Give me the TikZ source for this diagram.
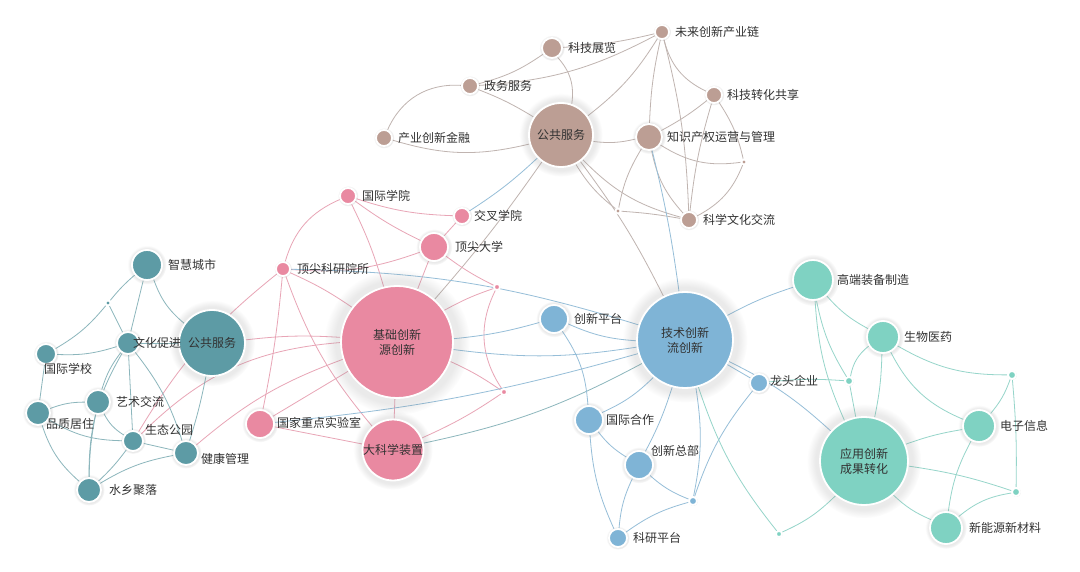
\documentclass[tikz,border=0pt]{standalone}
\usepackage{fontspec}
\setmainfont{Noto Sans CJK SC}
\usetikzlibrary{shadows,backgrounds}
\definecolor{cbrown}{RGB}{188,158,148}
\definecolor{cpink}{RGB}{233,137,161}
\definecolor{cteal}{RGB}{93,155,165}
\definecolor{cblue}{RGB}{127,180,214}
\definecolor{cgreen}{RGB}{127,210,194}
\definecolor{ebrown}{RGB}{192,180,176}
\definecolor{epink}{RGB}{232,165,182}
\definecolor{eteal}{RGB}{140,182,188}
\definecolor{eblue}{RGB}{150,190,216}
\definecolor{egreen}{RGB}{150,213,202}
\definecolor{txt}{RGB}{50,50,50}
\pgfdeclarelayer{base}
\pgfdeclarelayer{edges}
\pgfsetlayers{base,edges,main}
\tikzset{
  nd/.style={circle, draw=white, line width=1.8pt, inner sep=0pt, minimum size=#1,
    text=txt, font=\fontsize{12}{15}\selectfont, align=center,
    circular drop shadow={shadow xshift=0pt, shadow yshift=0pt, shadow scale=1.3, opacity=.16}},
  bn/.style={nd=#1, fill=cbrown},
  pn/.style={nd=#1, fill=cpink},
  cn/.style={nd=#1, fill=cteal},
  tn/.style={nd=#1, fill=cblue},
  gn/.style={nd=#1, fill=cgreen},
  lbl/.style={text=txt, font=\fontsize{12}{14}\selectfont, inner sep=0pt, anchor=west},
  ed/.style={line width=0.8pt},
  be/.style={ed, draw=ebrown},
  pe/.style={ed, draw=epink},
  ce/.style={ed, draw=eteal},
  te/.style={ed, draw=eblue},
  ge/.style={ed, draw=egreen},
}
\begin{document}
\begin{tikzpicture}[x=1pt,y=1pt]
\begin{pgfonlayer}{base}
\path[use as bounding box, fill=white] (0,0) rectangle (1080,-572);
\end{pgfonlayer}
% ---------- brown cluster
\node[bn=64pt] (bC) at (561,-135) {公共服务};
\node[bn=20pt] (bZL) at (552,-48) {};
\node[bn=16pt] (bZW) at (470,-86) {};
\node[bn=16pt] (bJR) at (384,-138) {};
\node[bn=14pt] (bWL) at (662,-32) {};
\node[bn=16pt] (bZH) at (714,-95) {};
\node[bn=26pt] (bZS) at (649,-137) {};
\node[bn=5pt] (bd1) at (744,-162) {};
\node[bn=5pt] (bd2) at (618,-211) {};
\node[bn=16pt] (bKX) at (689,-220) {};
\node[lbl] (lbZL) at ([xshift=5pt]bZL.east) {科技展览};
\node[lbl] (lbZW) at ([xshift=5pt]bZW.east) {政务服务};
\node[lbl] (lbJR) at ([xshift=5pt]bJR.east) {产业创新金融};
\node[lbl] (lbWL) at ([xshift=5pt]bWL.east) {未来创新产业链};
\node[lbl] (lbZH) at ([xshift=4pt]bZH.east) {科技转化共享};
\node[lbl] (lbZS) at ([xshift=4pt]bZS.east) {知识产权运营与管理};
\node[lbl] (lbKX) at ([xshift=5pt]bKX.east) {科学文化交流};
% ---------- pink cluster
\node[pn=112pt] (pC) at (397,-342) {基础创新\\源创新};
\node[pn=16pt] (pGJ) at (348,-196) {};
\node[pn=16pt] (pJC) at (462,-216) {};
\node[pn=28pt] (pDD) at (434,-247) {};
\node[pn=14pt] (pKY) at (283,-269) {};
\node[pn=6pt] (pd1) at (497,-287) {};
\node[pn=6pt] (pd2) at (504,-392) {};
\node[pn=28pt] (pSY) at (260,-424) {};
\node[pn=56pt] (pDK) at (393,-450) {大科学装置};
\node[lbl] (lpGJ) at ([xshift=5pt]pGJ.east) {国际学院};
\node[lbl] (lpJC) at ([xshift=3pt]pJC.east) {交叉学院};
\node[lbl] (lpDD) at ([xshift=6pt]pDD.east) {顶尖大学};
\node[lbl] (lpKY) at ([xshift=6pt]pKY.east) {顶尖科研院所};
\node[lbl] (lpSY) at (277,-423) {国家重点实验室};
% ---------- teal cluster
\node[cn=66pt] (cC) at (212,-343) {公共服务};
\node[cn=30pt] (cZH) at (147,-265) {};
\node[cn=5pt] (cd) at (108,-303) {};
\node[cn=22pt] (cWH) at (128,-343) {};
\node[cn=20pt] (cGX) at (46,-354) {};
\node[cn=24pt] (cYS) at (98,-402) {};
\node[cn=24pt] (cPZ) at (38,-413) {};
\node[cn=20pt] (cST) at (133,-441) {};
\node[cn=24pt] (cJK) at (186,-453) {};
\node[cn=24pt] (cSX) at (89,-490) {};
\node[lbl] (lcZH) at ([xshift=5pt]cZH.east) {智慧城市};
\node[lbl] (lcWH) at (133,-343) {文化促进};
\node[lbl] (lcGX) at (44,-369) {国际学校};
\node[lbl] (lcYS) at ([xshift=5pt]cYS.east) {艺术交流};
\node[lbl] (lcPZ) at (46,-424) {品质居住};
\node[lbl] (lcST) at (145,-430) {生态公园};
\node[lbl] (lcJK) at (201,-459) {健康管理};
\node[lbl] (lcSX) at ([xshift=7pt]cSX.east) {水乡聚落};
% ---------- blue cluster
\node[tn=96pt] (tTC) at (685,-340) {技术创新\\流创新};
\node[tn=28pt] (tPT) at (554,-319) {};
\node[tn=28pt] (tHZ) at (589,-420) {};
\node[tn=28pt] (tZB) at (639,-465) {};
\node[tn=8pt] (td) at (693,-501) {};
\node[tn=18pt] (tKY) at (618,-538) {};
\node[tn=18pt] (tLT) at (759,-383) {};
\node[lbl] (ltPT) at ([xshift=5pt]tPT.east) {创新平台};
\node[lbl] (ltHZ) at ([xshift=2pt]tHZ.east) {国际合作};
\node[lbl] (ltZB) at (651,-451) {创新总部};
\node[lbl] (ltKY) at ([xshift=5pt]tKY.east) {科研平台};
\node[lbl] (ltLT) at (770,-381) {龙头企业};
% ---------- green cluster
\node[gn=88pt] (gC) at (864,-461) {应用创新\\成果转化};
\node[gn=40pt] (gGD) at (813,-280) {};
\node[gn=32pt] (gSW) at (883,-337) {};
\node[gn=8pt] (gd1) at (849,-381) {};
\node[gn=8pt] (gd2) at (1012,-375) {};
\node[gn=32pt] (gDZ) at (979,-426) {};
\node[gn=8pt] (gd4) at (1016,-492) {};
\node[gn=32pt] (gXN) at (946,-528) {};
\node[gn=6pt] (gd3) at (779,-534) {};
\node[lbl] (lgGD) at ([xshift=3pt]gGD.east) {高端装备制造};
\node[lbl] (lgSW) at ([xshift=4pt]gSW.east) {生物医药};
\node[lbl] (lgDZ) at ([xshift=4pt]gDZ.east) {电子信息};
\node[lbl] (lgXN) at ([xshift=6pt]gXN.east) {新能源新材料};

\begin{pgfonlayer}{edges}
% brown edges
\draw[be] (bZW) to[bend right=10] (bZL);
\draw[be] (bZW) to[bend right=35] (bJR);
\draw[be] (bZW) to[bend left=5] (bC);
\draw[be] (bZW) to[bend right=12] (bWL);
\draw[be] (bZL) to[bend right=5] (bWL);
\draw[be] (bZL) to[bend left=25] (bC);
\draw[be] (bJR) to[bend right=15] (bC);
\draw[be] (bC) to[bend right=10] (bWL);
\draw[be] (bC) to[bend right=10] (bZS);
\draw[be] (bC) to[bend right=15] (bKX);
\draw[be] (bC) to[bend right=10] (bd2);
\draw[be] (bC) to[bend left=5] (tTC);
\draw[be] (bC) to[bend left=3] (pC);
\draw[te] (bC) to[bend left=5] (pJC);
\draw[be] (bWL) to[bend right=5] (bZS);
\draw[be] (bWL) to[bend left=6] (bKX);
\draw[be] (bWL) to[bend right=25] (bZH);
\draw[be] (bZH) to[bend left=5] (bZS);
\draw[be] (bZH) to[bend right=5] (bKX);
\draw[be] (bZH) to[bend left=10] (bd1);
\draw[be] (bZS) to[bend right=20] (bd1);
\draw[be] (bZS) to[bend right=10] (bd2);
\draw[be] (bZS) to[bend right=15] (bKX);
\draw[be] (bd2) to[bend left=3] (bKX);
\draw[be] (bd1) to[bend left=20] (bKX);
\draw[te] (bZS) to[bend left=3] (tTC);
% pink edges
\draw[pe] (pGJ) to[bend right=25] (pKY);
\draw[pe] (pGJ) to[bend right=8] (pJC);
\draw[pe] (pGJ) to[bend right=5] (pDD);
\draw[pe] (pGJ) to[bend left=5] (pC);
\draw[pe] (pKY) to[bend right=12] (pDD);
\draw[pe] (pJC) to (pDD);
\draw[pe] (pKY) to[bend left=5] (pC);
\draw[pe] (pKY) to[bend left=3] (pSY);
\draw[pe] (pKY) to[bend right=10] (pDK);
\draw[pe] (pDD) to (pC);
\draw[pe] (pDD) to[bend right=5] (pd1);
\draw[pe] (pC) to[bend left=5] (pd1);
\draw[pe] (pd1) to[bend right=30] (pd2);
\draw[pe] (pC) to[bend left=5] (pd2);
\draw[pe] (pDK) to[bend right=5] (pd2);
\draw[pe] (pC) to (pDK);
\draw[pe] (pC) to (pSY);
\draw[pe] (pSY) to (pDK);
\draw[pe] (cC) to[bend left=5] (pC);
\draw[pe] (cST) to[bend left=20] (pC);
\draw[pe] (cJK) to[bend left=10] (pC);
\draw[pe] (cST) to[bend left=10] (pKY);
\draw[te] (pKY) to[bend left=8] (tTC);
\draw[te] (pC) to[bend right=5] (tPT);
\draw[te] (pC) to[bend right=8] (tTC);
\draw[te] (pSY) to[bend right=5] (tTC);
\draw[ce] (pDK) to[bend right=8] (tTC);
% blue edges
\draw[te] (tPT) to[bend right=10] (tTC);
\draw[te] (tPT) to[bend left=15] (tHZ);
\draw[te] (tHZ) to[bend right=10] (tTC);
\draw[te] (tHZ) to[bend right=10] (tZB);
\draw[te] (tHZ) to[bend right=10] (tKY);
\draw[te] (tZB) to[bend right=5] (tTC);
\draw[te] (tZB) to[bend right=10] (td);
\draw[te] (tZB) to[bend right=10] (tKY);
\draw[te] (tKY) to[bend left=10] (td);
\draw[te] (td) to[bend left=10] (tLT);
\draw[te] (tTC) to (tLT);
\draw[te] (tTC) to[bend left=10] (td);
\draw[ge] (tTC) to[bend right=10] (gd3);
\draw[te] (tTC) to[bend left=8] (gC);
\draw[te] (tTC) to[bend left=5] (gGD);
% green edges
\draw[ge] (gGD) to[bend right=10] (gSW);
\draw[ge] (gGD) to[bend right=10] (gd1);
\draw[ge] (gGD) to[bend right=10] (gC);
\draw[ge] (gSW) to[bend right=20] (gd1);
\draw[ge] (gSW) to[bend left=5] (gC);
\draw[ge] (gSW) to[bend right=20] (gDZ);
\draw[ge] (gSW) to[bend right=15] (gd2);
\draw[ge] (gd1) to (gC);
\draw[ge] (tLT) to[bend left=5] (gd1);
\draw[ge] (gDZ) to[bend right=5] (gC);
\draw[ge] (gDZ) to[bend right=10] (gd2);
\draw[ge] (gDZ) to[bend right=10] (gXN);
\draw[ge] (gd2) to[bend left=3] (gd4);
\draw[ge] (gC) to[bend left=5] (gd4);
\draw[ge] (gC) to[bend right=10] (gXN);
\draw[ge] (gXN) to[bend left=15] (gd4);
\draw[ge] (gC) to[bend left=10] (gd3);
% teal edges
\draw[ce] (cZH) to[bend right=5] (cd);
\draw[ce] (cZH) to (cWH);
\draw[ce] (cZH) to[bend right=15] (cC);
\draw[ce] (cd) to[bend left=10] (cGX);
\draw[ce] (cd) to (cWH);
\draw[ce] (cGX) to[bend right=10] (cWH);
\draw[ce] (cGX) to (cPZ);
\draw[ce] (cWH) to (cC);
\draw[ce] (cWH) to[bend right=10] (cYS);
\draw[ce] (cWH) to (cST);
\draw[ce] (cWH) to[bend right=15] (cSX);
\draw[ce] (cWH) to[bend left=10] (cJK);
\draw[ce] (cYS) to[bend right=10] (cPZ);
\draw[ce] (cYS) to[bend right=15] (cST);
\draw[ce] (cYS) to[bend right=5] (cSX);
\draw[ce] (cPZ) to[bend right=15] (cST);
\draw[ce] (cPZ) to[bend right=15] (cSX);
\draw[ce] (cST) to (cJK);
\draw[ce] (cST) to[bend left=5] (cSX);
\draw[ce] (cJK) to[bend right=10] (cSX);
\draw[ce] (cC) to[bend left=3] (cJK);
\end{pgfonlayer}
\end{tikzpicture}
\end{document}
